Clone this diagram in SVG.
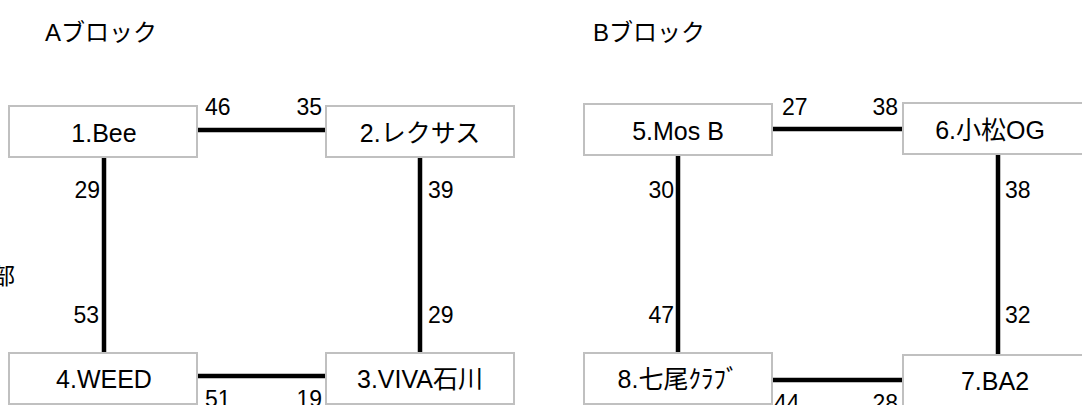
<svg xmlns="http://www.w3.org/2000/svg" width="1082" height="405" viewBox="0 0 1082 405">
<style>
text{font-family:"Liberation Sans","Noto Sans CJK JP",sans-serif;fill:#000}
.box{fill:#fff;stroke:#c0c0c0;stroke-width:2}
.bt{font-size:25px;text-anchor:middle}
.lb{font-size:23px}
.e{text-anchor:end}
.title{font-size:24px}
.c line{stroke:#000;stroke-width:4.5}
</style>
<rect width="1082" height="405" fill="#fff"/>
<text class="title" x="45" y="41">Aブロック</text>
<text class="title" x="593" y="41">Bブロック</text>
<text class="lb" x="-8" y="284">部</text>
<g class="c" id="connectors">
<line x1="197" y1="130" x2="326" y2="130"/>
<line x1="104" y1="157" x2="104" y2="353"/>
<line x1="420" y1="157" x2="420" y2="353"/>
<line x1="197" y1="376" x2="326" y2="376"/>
<line x1="772" y1="129" x2="903" y2="129"/>
<line x1="678" y1="155" x2="678" y2="353"/>
<line x1="998" y1="154" x2="998" y2="355"/>
<line x1="772" y1="380" x2="903" y2="380"/>
</g>
<g id="labels" class="lb">
<text x="205" y="115">46</text>
<text class="e" x="322" y="115">35</text>
<text class="e" x="100" y="198">29</text>
<text x="428" y="198">39</text>
<text class="e" x="99" y="323">53</text>
<text x="428" y="323">29</text>
<text x="205" y="407">51</text>
<text class="e" x="322" y="407">19</text>
<text x="782" y="115">27</text>
<text class="e" x="898" y="115">38</text>
<text class="e" x="674" y="198">30</text>
<text x="1005" y="198">38</text>
<text class="e" x="674" y="323">47</text>
<text x="1005" y="323">32</text>
<text x="774" y="411">44</text>
<text class="e" x="898" y="411">28</text>
</g>
<g id="n1"><rect class="box" x="9" y="106" width="188" height="51"/><text class="bt" x="104" y="142">1.Bee</text></g>
<g id="n2"><rect class="box" x="326" y="106" width="188" height="51"/><text class="bt" x="420" y="142">2.レクサス</text></g>
<g id="n3"><rect class="box" x="326" y="353" width="188" height="51"/><text class="bt" x="420" y="388">3.VIVA石川</text></g>
<g id="n4"><rect class="box" x="9" y="353" width="188" height="51"/><text class="bt" x="104" y="388">4.WEED</text></g>
<g id="n5"><rect class="box" x="584" y="104" width="188" height="51"/><text class="bt" x="678" y="140">5.Mos B</text></g>
<g id="n6"><rect class="box" x="903" y="103" width="188" height="51"/><text class="bt" x="990" y="139">6.小松OG</text></g>
<g id="n7"><rect class="box" x="903" y="355" width="188" height="51"/><text class="bt" x="995" y="390">7.BA2</text></g>
<g id="n8"><rect class="box" x="584" y="353" width="188" height="51"/><text class="bt" x="678" y="388">8.七尾ｸﾗﾌﾞ</text></g>
</svg>
